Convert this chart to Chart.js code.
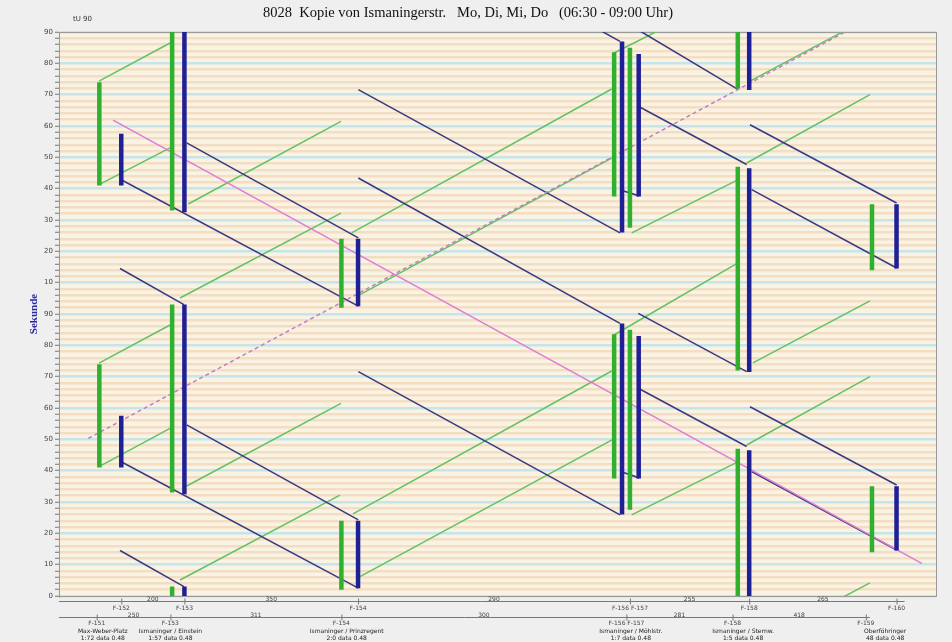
<!DOCTYPE html>
<html>
<head>
<meta charset="utf-8">
<script src="https://cdn.jsdelivr.net/npm/chart.js@4.4.1/dist/chart.umd.min.js"></script>
<style>
  html, body { margin: 0; padding: 0; background: #efefef; }
  #wrap { width: 952px; height: 642px; position: relative; }
</style>
</head>
<body>
<div id="wrap"><canvas id="zeitWeg"></canvas></div>
<script>
// Umlaufzeit (s)
const cycle = 90;

// Signalgruppen: Lage (m) und Freigabe (s im Umlauf)
const greenBarX     = [46, 129, 322, 633, 651, 774, 927];
const greenBarStart = [41, 33, 2, 37.5, 27.5, 72, 14];
const greenBarEnd   = [74, 93, 24, 83.5, 85, 137, 35];
const blueBarX      = [71, 143, 341, 642, 661, 787, 955];
const blueBarStart  = [41, 32.5, 2.5, 26, 37.5, 71.5, 14.5];
const blueBarEnd    = [57.5, 93, 24, 87, 83, 136.5, 35];

// Grüne Welle Richtung 1: [x1, t1, x2, t2]
const greenLines = [
  [45.6, 164.3, 126.6, 176.5], [45.6, 131.3, 126.6, 143.0],
  [147.4, 125.1, 321.5, 151.5], [138, 95.1, 321.5, 122.2],
  [333.7, 115.9, 630.2, 161.8], [343.2, 96.2, 630.6, 139.8],
  [632.8, 173.3, 696.7, 182.3], [653, 115.9, 774.6, 132.9],
  [784.1, 138.2, 924.7, 160.0], [787.9, 164.3, 910, 182.5],
  [45.6, 74.3, 126.6, 86.5], [45.6, 41.3, 126.6, 53.5],
  [145.6, 35.1, 321.5, 61.5], [138, 5.1, 320.4, 32.2],
  [335.2, 26.2, 630.2, 71.8], [343.2, 6.2, 630.6, 49.8],
  [653, 25.9, 774.6, 42.9], [784.1, 48.2, 924.7, 70.0],
  [791.3, 74.4, 924.7, 94.2], [632.8, 83.3, 774.2, 106.3],
  [791.3, -15.6, 924.7, 4.2]
];

// Grüne Welle Richtung 2
const blueLines = [
  [69.6, 104.5, 142.5, 93.0], [70.4, 132.9, 341.3, 92.5],
  [145.6, 144.6, 341.3, 114.3], [341.3, 161.6, 639.7, 115.9],
  [341.3, 133.4, 639.7, 87.0], [341.3, 223.4, 639.7, 177.0],
  [650, 182.4, 774.6, 161.6], [660.5, 156.3, 784.1, 137.7],
  [789.8, 129.7, 955.1, 104.7], [787.9, 150.4, 955.1, 125.4],
  [642, 129.4, 661.4, 127.7],
  [69.6, 14.5, 142.5, 3.0], [70.4, 42.9, 341.3, 2.5],
  [145.6, 54.6, 341.3, 24.3], [341.3, 71.6, 639.7, 25.9],
  [660.5, 90.2, 784.1, 71.6], [660.5, 66.3, 784.1, 47.7],
  [789.8, 39.7, 955.1, 14.7], [787.9, 60.4, 955.1, 35.4],
  [642, 39.6, 661.4, 37.7]
];

const pinkLine   = [61.6, 151.9, 983.7, 10.4];
const dashedLine = [33.4, 50.3, 896.3, 180];

// Beschriftung unten
const rowAX     = [71, 143, 341, 651, 787, 955];
const rowALabel = ['F-152', 'F-153', 'F-154', 'F-156 F-157', 'F-158', 'F-160'];
const rowADist  = ['200', '350', '290', '255', '265'];
const rowBX     = [43, 127, 322, 647, 768, 920];
const rowBLabel = ['F-151', 'F-153', 'F-154', 'F-156 F-157', 'F-158', 'F-159'];
const rowBDist  = ['250', '311', '300', '281', '418'];
const nameX     = [50, 127, 328, 652, 780, 942];
const nameLine1 = ['Max-Weber-Platz', 'Ismaninger / Einstein', 'Ismaninger / Prinzregent', 'Ismaninger / Möhlstr.', 'Ismaninger / Sternw.', 'Oberföhringer'];
const nameLine2 = ['1:72 data 0.48', '1:57 data 0.48', '2:0 data 0.48', '1:7 data 0.48', '1:5 data 0.48', '48 data 0.48'];

function segs(list) {
  const pts = [];
  list.forEach(s => {
    pts.push({x: s[0], y: s[1]}, {x: s[2], y: s[3]}, {x: s[2], y: null});
  });
  return pts;
}

function bars(xs, starts, ends) {
  const pts = [];
  xs.forEach((x, i) => {
    for (let k = -1; k <= 1; k++) {
      pts.push({x: x, y: starts[i] + k * cycle}, {x: x, y: ends[i] + k * cycle}, {x: x, y: null});
    }
  });
  return pts;
}

const lineBase = { showLine: true, pointRadius: 0, spanGaps: false, clip: 0, tension: 0 };

// Hintergrund, Rahmen und Beschriftungen
const diagramPlugin = {
  id: 'diagramPlugin',
  beforeDraw(chart) {
    const {ctx, chartArea: a} = chart;
    ctx.save();
    ctx.fillStyle = '#efefef';
    ctx.fillRect(0, 0, chart.width, chart.height);
    ctx.fillStyle = '#f9f3e4';
    ctx.fillRect(a.left, a.top, a.right - a.left, a.bottom - a.top);
    ctx.restore();
  },
  beforeDatasetsDraw(chart) {
    const {ctx, chartArea: a} = chart;
    ctx.save();
    ctx.strokeStyle = '#9a9a9a';
    ctx.lineWidth = 1;
    ctx.strokeRect(a.left + 0.5, a.top + 0.5, a.right - a.left, a.bottom - a.top);
    ctx.restore();
  },
  afterDraw(chart) {
    const {ctx, chartArea: a} = chart;
    const xs = chart.scales.x;
    const px = v => xs.getPixelForValue(v);
    ctx.save();
    ctx.fillStyle = '#333';
    ctx.font = '7px "DejaVu Sans"';
    ctx.textAlign = 'left';
    ctx.fillText('tU 90', a.left + 14, 21);

    ctx.strokeStyle = '#777';
    ctx.lineWidth = 1;
    const yA = a.bottom + 5.5, yB = a.bottom + 21.5;
    ctx.beginPath();
    ctx.moveTo(a.left, yA); ctx.lineTo(px(rowAX[rowAX.length - 1]) + 8, yA);
    ctx.moveTo(a.left, yB); ctx.lineTo(px(rowBX[rowBX.length - 1]) + 4, yB);
    rowAX.forEach(v => { ctx.moveTo(px(v) + 0.5, yA - 3); ctx.lineTo(px(v) + 0.5, yA + 3); });
    rowBX.forEach(v => { ctx.moveTo(px(v) + 0.5, yB - 3); ctx.lineTo(px(v) + 0.5, yB + 3); });
    ctx.stroke();

    ctx.font = '6px "DejaVu Sans"';
    ctx.textAlign = 'center';
    ctx.fillStyle = '#444';
    rowAX.forEach((v, i) => ctx.fillText(rowALabel[i], px(v), yA + 8));
    rowADist.forEach((d, i) => ctx.fillText(d, (px(rowAX[i]) + px(rowAX[i + 1])) / 2, yA - 1));
    rowBX.forEach((v, i) => ctx.fillText(rowBLabel[i], px(v), yB + 7));
    rowBDist.forEach((d, i) => ctx.fillText(d, (px(rowBX[i]) + px(rowBX[i + 1])) / 2, yB - 1));
    ctx.fillStyle = '#222';
    nameX.forEach((v, i) => {
      ctx.fillText(nameLine1[i], px(v), a.bottom + 37);
      ctx.fillText(nameLine2[i], px(v), a.bottom + 44);
    });
    ctx.restore();
  }
};

new Chart(document.getElementById('zeitWeg'), {
  type: 'line',
  data: {
    datasets: [
      { ...lineBase, label: 'Freigabe 1', data: bars(greenBarX, greenBarStart, greenBarEnd),
        borderColor: '#2fb12f', borderWidth: 4.5, borderCapStyle: 'butt', order: 1 },
      { ...lineBase, label: 'Freigabe 2', data: bars(blueBarX, blueBarStart, blueBarEnd),
        borderColor: '#1f1f96', borderWidth: 4.5, borderCapStyle: 'butt', order: 0 },
      { ...lineBase, label: 'Band 1', data: segs(greenLines),
        borderColor: '#62c262', borderWidth: 1.5, order: 4 },
      { ...lineBase, label: 'Band 2', data: segs(blueLines),
        borderColor: '#3b3b82', borderWidth: 1.6, order: 3 },
      { ...lineBase, label: 'Fahrzeug', data: segs([pinkLine]),
        borderColor: '#e07ad6', borderWidth: 1.5, order: 2 },
      { ...lineBase, label: 'Fahrzeug 2', data: segs([dashedLine]),
        borderColor: '#c07fc8', borderWidth: 1.5, borderDash: [4, 3], order: 2 }
    ]
  },
  options: {
    responsive: true,
    maintainAspectRatio: false,
    animation: false,
    events: [],
    layout: { padding: { left: 0, right: 16, top: 0, bottom: 46 } },
    plugins: {
      legend: { display: false },
      tooltip: { enabled: false },
      title: {
        display: true,
        text: '8028  Kopie von Ismaningerstr.   Mo, Di, Mi, Do   (06:30 - 09:00 Uhr)',
        color: '#111',
        font: { family: '"Liberation Serif"', size: 14.5, weight: 'normal', lineHeight: 1.2 },
        padding: { top: 4, bottom: 10.6 }
      }
    },
    scales: {
      x: { type: 'linear', min: 0, max: 1000, display: false },
      y: {
        type: 'linear', min: 0, max: 180,
        afterFit(scale) { scale.width = 59; },
        ticks: {
          stepSize: 2, autoSkip: false, maxTicksLimit: 200,
          color: '#444', padding: 2,
          font: { family: '"DejaVu Sans"', size: 7 },
          callback: v => (v % 10 === 0 ? String(v > cycle ? v - cycle : v) : '')
        },
        grid: {
          lineWidth: 2.5,
          color: c => (c.tick && c.tick.value % 10 === 0 ? '#c6e4ea' : '#f3dec3'),
          tickColor: '#777', tickLength: 4, tickWidth: 1
        },
        border: { color: '#666', width: 1 },
        title: {
          display: true, text: 'Sekunde', color: '#2a2aa0',
          font: { family: '"Liberation Serif"', size: 11, weight: 'bold', lineHeight: 1.2 },
          padding: { top: 28, bottom: 0 }
        }
      }
    }
  },
  plugins: [diagramPlugin]
});
</script>
</body>
</html>
